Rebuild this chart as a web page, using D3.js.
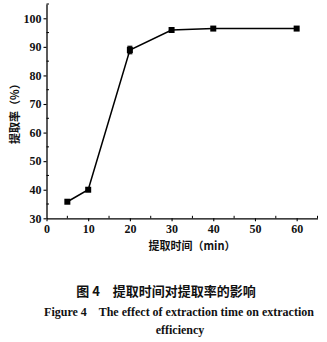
<!DOCTYPE html>
<html><head><meta charset="utf-8">
<script src="https://cdn.jsdelivr.net/npm/d3@7"></script>
<style>body{margin:0;background:#fff}</style>
</head><body>
<svg id="c" width="327" height="342"></svg>
<script>
const times = [5, 10, 20, 30, 40, 60];
const rates = [35.8, 40.0, 88.9, 95.9, 96.4, 96.4];
const errs  = [0, 0, 1.3, 0, 0, 0];
const xTicks = [0, 10, 20, 30, 40, 50, 60];
const yTicks = [30, 40, 50, 60, 70, 80, 90, 100];
const xLabel = "提取时间（min）";
const yLabel = "提取率（%）";
const cap1 = "图 4　提取时间对提取率的影响";
const cap2 = "Figure 4    The effect of extraction time on extraction";
const cap3 = "efficiency";

const svg = d3.select("#c");
const x = d3.scaleLinear().domain([0, 65]).range([46.5, 317.5]);
const y = d3.scaleLinear().domain([30, 105]).range([218.3, 4]);
const serif = "'Liberation Serif','Times New Roman',serif";
const cjk = "'Noto Sans CJK SC','Noto Sans',sans-serif";

// axes
const gx = svg.append("g").attr("transform", `translate(0,${y(30)})`)
  .call(d3.axisBottom(x).tickValues(xTicks).tickSize(3).tickSizeOuter(0).tickPadding(3));
const gy = svg.append("g").attr("transform", `translate(${x(0)},0)`)
  .call(d3.axisLeft(y).tickValues(yTicks).tickSize(3).tickSizeOuter(0).tickPadding(2));
[gx, gy].forEach(g => {
  g.select(".domain").attr("stroke", "#000").attr("stroke-width", 1.3);
  g.selectAll(".tick line").attr("stroke", "#000").attr("stroke-width", 1.1);
  g.selectAll("text").attr("font-family", serif).attr("font-weight", "bold")
    .attr("font-size", 12).attr("fill", "#111");
});
// minor ticks (inward)
const xMinor = [5, 15, 25, 35, 45, 55, 65];
svg.append("g").selectAll("line").data(xMinor).join("line")
  .attr("x1", d => x(d)).attr("x2", d => x(d))
  .attr("y1", y(30)).attr("y2", y(30) - 2.5).attr("stroke", "#000").attr("stroke-width", 1);
const yMinor = [35, 45, 55, 65, 75, 85, 95, 105];
svg.append("g").selectAll("line").data(yMinor).join("line")
  .attr("x1", x(0)).attr("x2", x(0) + 2.5)
  .attr("y1", d => y(d)).attr("y2", d => y(d)).attr("stroke", "#000").attr("stroke-width", 1);

// line
const pts = times.map((t, i) => ({t, r: rates[i], e: errs[i]}));
svg.append("path").datum(pts)
  .attr("fill", "none").attr("stroke", "#000").attr("stroke-width", 1.5)
  .attr("d", d3.line().x(d => x(d.t)).y(d => y(d.r)));
// error bars
const eb = svg.append("g").selectAll("g").data(pts.filter(d => d.e > 0)).join("g");
eb.append("line").attr("x1", d => x(d.t)).attr("x2", d => x(d.t))
  .attr("y1", d => y(d.r - d.e)).attr("y2", d => y(d.r + d.e)).attr("stroke", "#000").attr("stroke-width", 1.2);
eb.append("line").attr("x1", d => x(d.t) - 2.5).attr("x2", d => x(d.t) + 2.5)
  .attr("y1", d => y(d.r + d.e)).attr("y2", d => y(d.r + d.e)).attr("stroke", "#000").attr("stroke-width", 1.2);
eb.append("line").attr("x1", d => x(d.t) - 2.5).attr("x2", d => x(d.t) + 2.5)
  .attr("y1", d => y(d.r - d.e)).attr("y2", d => y(d.r - d.e)).attr("stroke", "#000").attr("stroke-width", 1.2);
// markers
svg.append("g").selectAll("rect").data(pts).join("rect")
  .attr("x", d => x(d.t) - 3).attr("y", d => y(d.r) - 3)
  .attr("width", 6).attr("height", 6).attr("fill", "#000");

// axis labels
svg.append("text").attr("x", 192).attr("y", 250).attr("text-anchor", "middle")
  .attr("font-family", cjk).attr("font-weight", "bold").attr("font-size", 11).attr("fill", "#111")
  .text(xLabel);
svg.append("text").attr("transform", `translate(19,${(y(30) + y(105)) / 2}) rotate(-90)`)
  .attr("text-anchor", "middle")
  .attr("font-family", cjk).attr("font-weight", "bold").attr("font-size", 11).attr("fill", "#111")
  .text(yLabel);

// captions
svg.append("text").attr("x", 166).attr("y", 296).attr("text-anchor", "middle")
  .attr("font-family", cjk).attr("font-weight", "bold").attr("font-size", 13).attr("fill", "#111")
  .text(cap1);
svg.append("text").attr("x", 179).attr("y", 316).attr("text-anchor", "middle")
  .attr("font-family", serif).attr("font-weight", "bold").attr("font-size", 12).attr("fill", "#111")
  .attr("xml:space", "preserve").style("white-space", "pre")
  .text(cap2);
svg.append("text").attr("x", 180).attr("y", 334).attr("text-anchor", "middle")
  .attr("font-family", serif).attr("font-weight", "bold").attr("font-size", 12).attr("fill", "#111")
  .text(cap3);
</script>
</body></html>
